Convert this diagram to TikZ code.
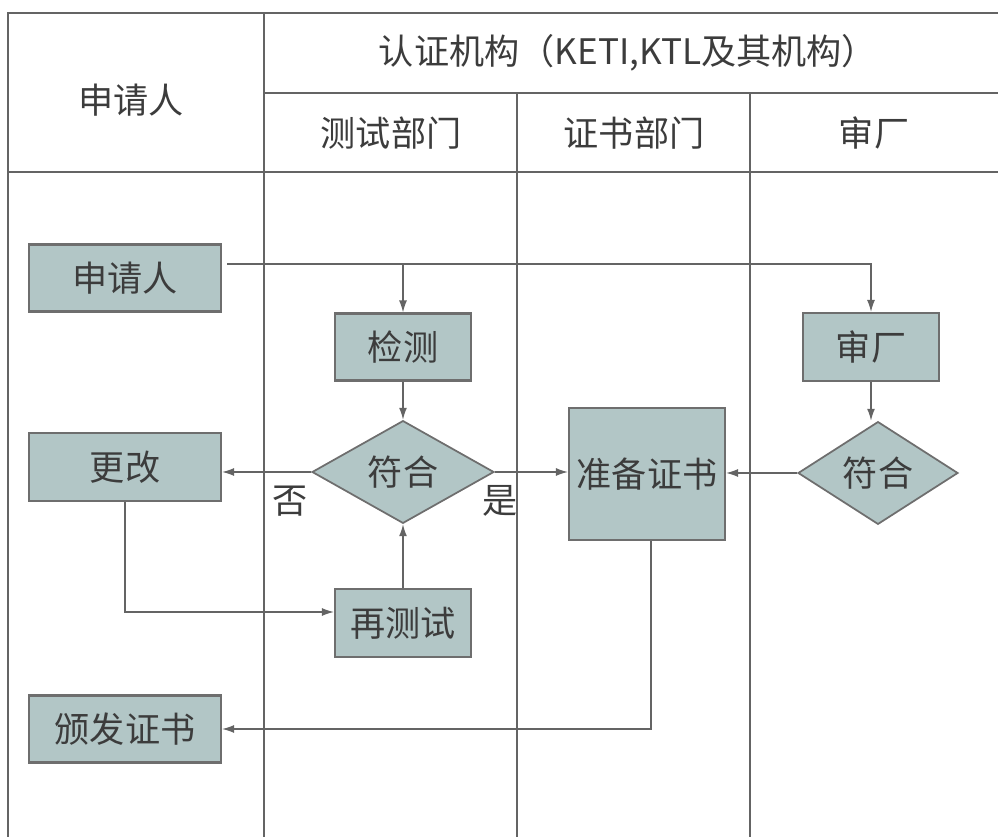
\documentclass[tikz,border=0pt]{standalone}
\usepackage{fontspec}
\setmainfont{Noto Sans CJK SC}
\usepackage{xcolor}
\usepackage{tikz}
\usetikzlibrary{positioning, arrows.meta, shapes.geometric, calc}

\definecolor{boxfill}{RGB}{178,198,198}
\definecolor{boxline}{RGB}{110,110,110}
\definecolor{gridline}{RGB}{100,100,100}
\definecolor{txt}{RGB}{60,60,60}

\begin{document}
\begin{tikzpicture}[
    x=0.02cm, y=-0.02cm,
    font=\fontsize{20pt}{24pt}\selectfont, text=txt,
    grid/.style={draw=gridline, line width=0.9pt},
    box/.style={rectangle, draw=boxline, fill=boxfill, line width=1.2pt, inner sep=0pt},
    check/.style={diamond, draw=boxline, fill=boxfill, line width=1pt, inner sep=0pt,
        minimum width=3.2cm, minimum height=1.84cm},
    arr/.style={draw=gridline, line width=0.8pt, -{Latex[length=2.4mm,width=1.6mm]}}
]
    \useasboundingbox (0,0) rectangle (998,837);

    % swimlane table
    \draw[grid] (998,13) -- (8,13) -- (8,837);
    \draw[grid] (264,13) -- (264,837);
    \draw[grid] (264,93) -- (998,93);
    \draw[grid] (8,172) -- (998,172);
    \draw[grid] (517,93) -- (517,837);
    \draw[grid] (750,93) -- (750,837);

    \node (hApp) at (131,100) {申请人};
    \node (hOrg) at (628,53) {认证机构（KETI,KTL及其机构）};
    \node (hTest) at (391,133) {测试部门};
    \node (hCert) at (634,133) {证书部门};
    \node (hAudit) at (874,133) {审厂};

    % process nodes
    \node[box, minimum width=3.84cm, minimum height=1.34cm] (app) at (125,278) {申请人};
    \node[box, minimum width=2.72cm, minimum height=1.34cm] (test) at (403,347) {检测};
    \node[check, minimum width=3.64cm] (ok1) at (403,472) {符合};
    \node[box, minimum width=3.84cm, minimum height=1.36cm] (fix) at (125,467) {更改};
    \node[box, minimum width=3.12cm, minimum height=2.64cm] (prep) at (647,474) {准备证书};
    \node[box, minimum width=2.72cm, minimum height=1.36cm] (audit) at (871,347) {审厂};
    \node[check] (ok2) at (878,473) {符合};
    \node[box, minimum width=2.72cm, minimum height=1.36cm] (retest) at (403,623) {再测试};
    \node[box, minimum width=3.84cm, minimum height=1.34cm] (issue) at (125,729) {颁发证书};

    \coordinate (split) at (403,264);

    \draw[arr] ([xshift=0.1cm]app.east |- split) -- (audit.north |- split) -- (audit.north);
    \draw[arr] (split) -- (test.north);
    \draw[arr] (test.south) -- (ok1.north);
    \draw[arr] (ok1.west) -- (fix.east |- ok1.west);
    \draw[arr] (ok1.east) -- (prep.west |- ok1.east);
    \draw[arr] (audit.south) -- (audit.south |- ok2.north);
    \draw[arr] (ok2.west) -- (prep.east |- ok2.west);
    \draw[arr] (fix.south) |- ([yshift=0.22cm]retest.west);
    \draw[arr] (retest.north) -- (ok1.south);
    \draw[arr] ([xshift=0.08cm]prep.south) |- (issue.east);

    % branch labels
    \node (no) at (290,501) {否};
    \node (yes) at (500,501) {是};
\end{tikzpicture}
\end{document}
